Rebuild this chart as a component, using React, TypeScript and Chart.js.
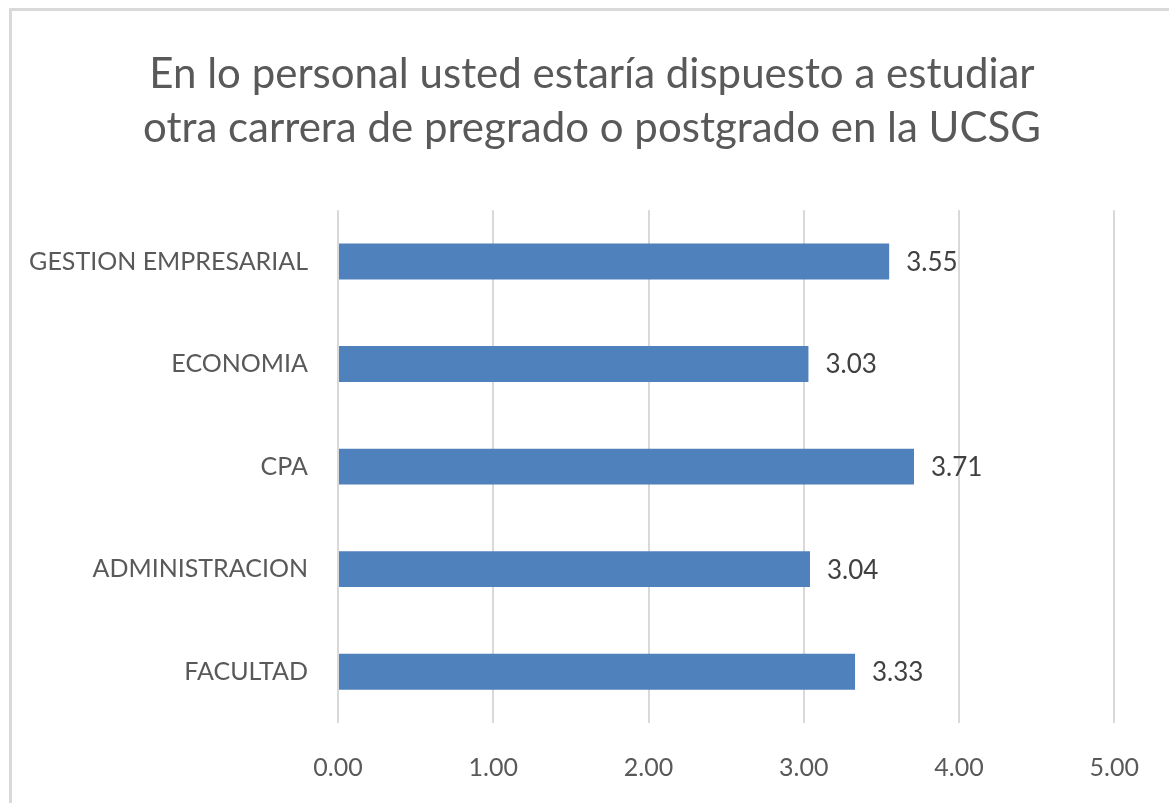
import React, { useEffect, useRef } from "react";
import { Chart, registerables } from "chart.js";

Chart.register(...registerables);

const titleLines = [
  "En lo personal usted estaría dispuesto a estudiar",
  "otra carrera de pregrado o postgrado en la UCSG",
];
const categories = ["GESTION EMPRESARIAL", "ECONOMIA", "CPA", "ADMINISTRACION", "FACULTAD"];
const values = [3.55, 3.03, 3.71, 3.04, 3.33];
const xMin = 0;
const xMax = 5;
const xStep = 1;

const FONT = "Lato, 'Open Sans', sans-serif";
const TEXT = "#595959";

const valueLabels = {
  id: "valueLabels",
  afterDatasetsDraw(chart: any) {
    const ctx = chart.ctx;
    const meta = chart.getDatasetMeta(0);
    ctx.save();
    ctx.font = `26px ${FONT}`;
    ctx.fillStyle = "#404040";
    ctx.textAlign = "left";
    ctx.textBaseline = "middle";
    meta.data.forEach((bar: any, i: number) => {
      ctx.fillText(values[i].toFixed(2), bar.x + 17, bar.y + 1);
    });
    ctx.restore();
  },
};

export default function App() {
  const ref = useRef<HTMLCanvasElement>(null);
  useEffect(() => {
    if (!ref.current) return;
    const chart = new Chart(ref.current, {
      type: "bar",
      data: {
        labels: categories,
        datasets: [
          {
            data: values,
            backgroundColor: "#4F81BD",
            borderWidth: 0,
            barPercentage: 0.35,
            categoryPercentage: 1,
          },
        ],
      },
      options: {
        indexAxis: "y",
        responsive: false,
        animation: false,
        layout: { padding: { left: 29, right: 14, top: 0, bottom: 0 } },
        plugins: {
          legend: { display: false },
          tooltip: { enabled: false },
          title: {
            display: true,
            text: titleLines,
            color: TEXT,
            font: { family: FONT, size: 42, weight: "normal", lineHeight: 1.3 },
            padding: { top: 47, bottom: 54 },
          },
        },
        scales: {
          x: {
            min: xMin,
            max: xMax,
            ticks: {
              stepSize: xStep,
              color: TEXT,
              font: { family: FONT, size: 25 },
              padding: 30,
              callback: (v: any) => Number(v).toFixed(2),
            },
            grid: { color: "#d9d9d9", lineWidth: 2, drawTicks: false },
            border: { display: false },
            afterFit: (s: any) => {
              s.height = 80;
            },
          },
          y: {
            ticks: {
              color: TEXT,
              font: { family: FONT, size: 25 },
              padding: 30,
            },
            grid: { display: false, drawTicks: false },
            border: { display: false },
            afterFit: (s: any) => {
              s.width = 309;
            },
          },
          yRight: {
            type: "linear",
            position: "right",
            ticks: { display: false },
            grid: { display: false, drawTicks: false },
            border: { display: false },
            afterFit: (s: any) => {
              s.width = 40;
            },
          },
        },
      },
      plugins: [valueLabels],
    });
    return () => chart.destroy();
  }, []);

  return (
    <div style={{ position: "fixed", left: 0, top: 0, width: 1169, height: 803, background: "#fff", overflow: "hidden" }}>
      <div
        style={{
          position: "absolute",
          left: 9,
          top: 8,
          width: 1250,
          height: 900,
          border: "3px solid #d9d9d9",
          boxSizing: "border-box",
        }}
      />
      <canvas ref={ref} width={1169} height={803} style={{ position: "absolute", left: 0, top: 0 }} />
    </div>
  );
}
